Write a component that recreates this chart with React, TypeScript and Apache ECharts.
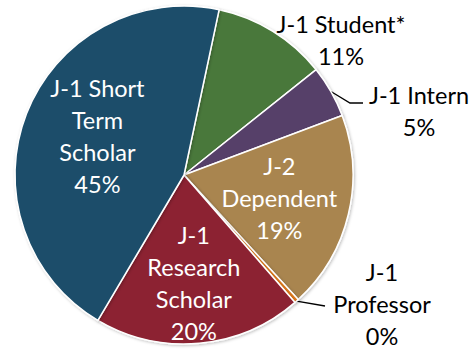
import React, { useEffect, useRef } from 'react';
import * as echarts from 'echarts';

// Visa categories, clockwise from the top of the pie
const categories = [
  'J-1 Student*',
  'J-1 Intern',
  'J-2\nDependent',
  'J-1\nProfessor',
  'J-1\nResearch\nScholar',
  'J-1 Short\nTerm\nScholar',
];
const shares = [11, 5, 19, 0.4, 20, 45];
const sliceColors = ['#48783a', '#574069', '#a9854f', '#e07a1a', '#8c2332', '#1b4e6b'];
const insideLabel = [false, false, true, false, true, true];

// pie geometry (pixels)
const CX = 184;
const CY = 175;
const R = 169;
const START_FROM_TOP = 12; // first slice edge, degrees clockwise from 12 o'clock

const FONT = 'Lato, "Open Sans", sans-serif';

// where each label sits: inside labels by fraction of radius along the slice's mid-angle,
// outside labels by block centre plus optional leader-line bend points
const labelSpots: Record<number, any> = {
  0: { x: 341, y: 40 },
  1: { x: 419, y: 111, line: [[350, 103], [363, 103]] },
  2: { frac: 0.58, dy: 0 },
  3: { x: 382, y: 304, line: [[325, 306], [325, 306]] },
  4: { frac: 0.64, dy: 0 },
  5: { frac: 0.55, dy: -5 },
};

function midAngles(): number[] {
  const total = shares.reduce((a, b) => a + b, 0);
  const out: number[] = [];
  let acc = START_FROM_TOP;
  for (const v of shares) {
    const span = (v / total) * 360;
    out.push(acc + span / 2);
    acc += span;
  }
  return out;
}

function polar(deg: number, r: number): [number, number] {
  const a = (deg * Math.PI) / 180;
  return [CX + r * Math.sin(a), CY - r * Math.cos(a)];
}

export default function App() {
  const ref = useRef<HTMLDivElement>(null);

  useEffect(() => {
    if (!ref.current) return;
    const chart = echarts.init(ref.current, undefined, { renderer: 'svg' });
    const mids = midAngles();

    const data = categories.map((name, i) => ({
      name,
      value: shares[i],
      itemStyle: { color: sliceColors[i] },
      label: insideLabel[i]
        ? { position: 'inside', color: '#ffffff' }
        : { position: 'outside', color: '#000000' },
      labelLine: { show: !!labelSpots[i].line },
    }));

    chart.setOption({
      animation: false,
      series: [
        {
          type: 'pie',
          center: [CX, CY],
          radius: [0, R],
          startAngle: 90 - START_FROM_TOP,
          clockwise: true,
          avoidLabelOverlap: false,
          itemStyle: {
            borderColor: '#ffffff',
            borderWidth: 1.5,
            shadowBlur: 3,
            shadowColor: 'rgba(0,0,0,0.25)',
            shadowOffsetX: 1,
            shadowOffsetY: 1,
          },
          label: {
            show: true,
            fontFamily: FONT,
            fontSize: 23.5,
            lineHeight: 32,
            align: 'center',
            formatter: (p: any) => `${p.name}\n${Math.round(p.percent)}%`,
          },
          labelLine: {
            show: true,
            lineStyle: { color: '#000000', width: 1.3 },
          },
          labelLayout: (p: any) => {
            const i = p.dataIndex;
            const spot = labelSpots[i];
            if (spot.frac !== undefined) {
              const [x, y] = polar(mids[i], R * spot.frac);
              return { x, y: y + spot.dy, align: 'center', verticalAlign: 'middle' };
            }
            const res: any = { x: spot.x, y: spot.y, align: 'center', verticalAlign: 'middle' };
            if (spot.line) {
              res.labelLinePoints = [polar(mids[i], R), ...spot.line];
            }
            return res;
          },
          data,
        },
      ],
    });

    return () => chart.dispose();
  }, []);

  return (
    <div
      ref={ref}
      style={{ position: 'absolute', left: 0, top: 0, width: 470, height: 350, background: '#ffffff' }}
    />
  );
}
